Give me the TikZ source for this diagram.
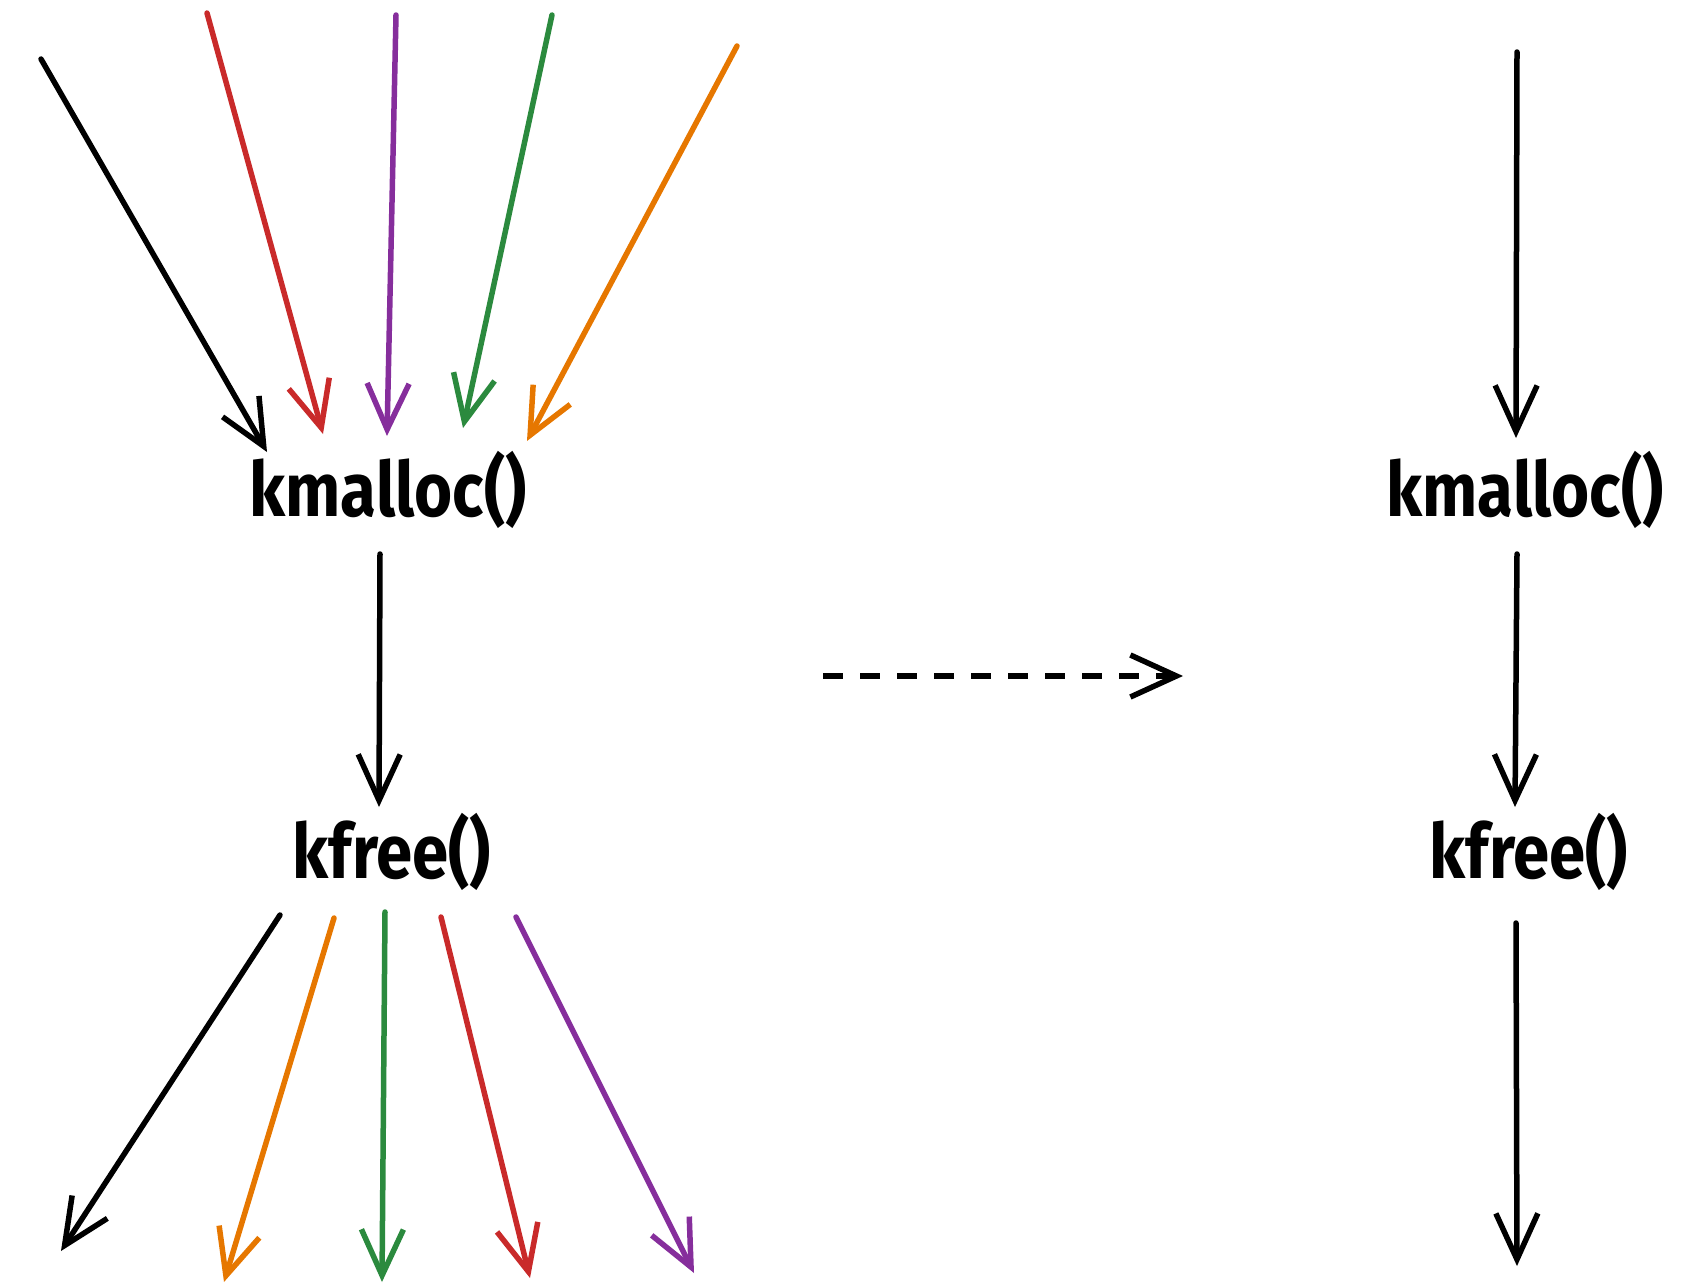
\documentclass[tikz,border=0pt]{standalone}
\usepackage{fontspec}
\setmainfont{Fira Sans}
\usetikzlibrary{arrows.meta}
\definecolor{xred}{HTML}{C92A2A}
\definecolor{xpurple}{HTML}{862E9C}
\definecolor{xgreen}{HTML}{2B8A3E}
\definecolor{xorange}{HTML}{E67700}
\tikzset{
  flow/.style={line width=5.5pt, line cap=round, line join=round,
    -{Straight Barb[length=46pt, width=42pt, line width=5.5pt]}},
  fn/.style={inner sep=0pt, font=\fontsize{76}{80}\selectfont\bfseries},
}
\newcommand{\fnlabel}[1]{\scalebox{0.86}[1]{#1}}
\begin{document}
\begin{tikzpicture}[x=1pt, y=-1pt]
  \useasboundingbox (0,0) rectangle (1687,1288);

  % function labels
  \node[fn] (km1) at (388,490) {\fnlabel{kmalloc()}};
  \node[fn] (kf1) at (392,852) {\fnlabel{kfree()}};
  \node[fn] (km2) at (1525,490) {\fnlabel{kmalloc()}};
  \node[fn] (kf2) at (1529,852) {\fnlabel{kfree()}};

  % incoming call paths (left)
  \coordinate (s1) at (41,59);   \coordinate (e1) at (267,452);
  \coordinate (s2) at (207,13);  \coordinate (e2) at (323,434);
  \coordinate (s3) at (396,15);  \coordinate (e3) at (387,436);
  \coordinate (s4) at (552,15);  \coordinate (e4) at (463,428);
  \coordinate (s5) at (737,46);  \coordinate (e5) at (527,441);
  \draw[flow, black]   (s1) -- (e1);
  \draw[flow, xred]    (s2) -- (e2);
  \draw[flow, xpurple] (s3) -- (e3);
  \draw[flow, xgreen]  (s4) -- (e4);
  \draw[flow, xorange] (s5) -- (e5);

  % kmalloc -> kfree (left)
  \coordinate (m1) at (380,554);  \coordinate (m2) at (379,807);
  \draw[flow] (m1) -- (m2);

  % outgoing paths (left)
  \coordinate (b1) at (280,915); \coordinate (f1) at (61,1251);
  \coordinate (b2) at (334,918); \coordinate (f2) at (224,1282);
  \coordinate (b3) at (385,912); \coordinate (f3) at (382,1282);
  \coordinate (b4) at (441,917); \coordinate (f4) at (530,1278);
  \coordinate (b5) at (516,917); \coordinate (f5) at (694,1273);
  \draw[flow, black]   (b1) -- (f1);
  \draw[flow, xorange] (b2) -- (f2);
  \draw[flow, xgreen]  (b3) -- (f3);
  \draw[flow, xred]    (b4) -- (f4);
  \draw[flow, xpurple] (b5) -- (f5);

  % transformation
  \coordinate (d1) at (823,676); \coordinate (d2) at (1183,676);
  \draw[flow, dash pattern=on 20pt off 17pt, line cap=butt] (d1) -- (d2);

  % single path (right)
  \coordinate (r0) at (1517,52);   \coordinate (r1) at (1516,438);
  \coordinate (r2) at (1517,554);  \coordinate (r3) at (1515,807);
  \coordinate (r4) at (1516,923);  \coordinate (r5) at (1517,1266);
  \draw[flow] (r0) -- (r1);
  \draw[flow] (r2) -- (r3);
  \draw[flow] (r4) -- (r5);
\end{tikzpicture}
\end{document}
